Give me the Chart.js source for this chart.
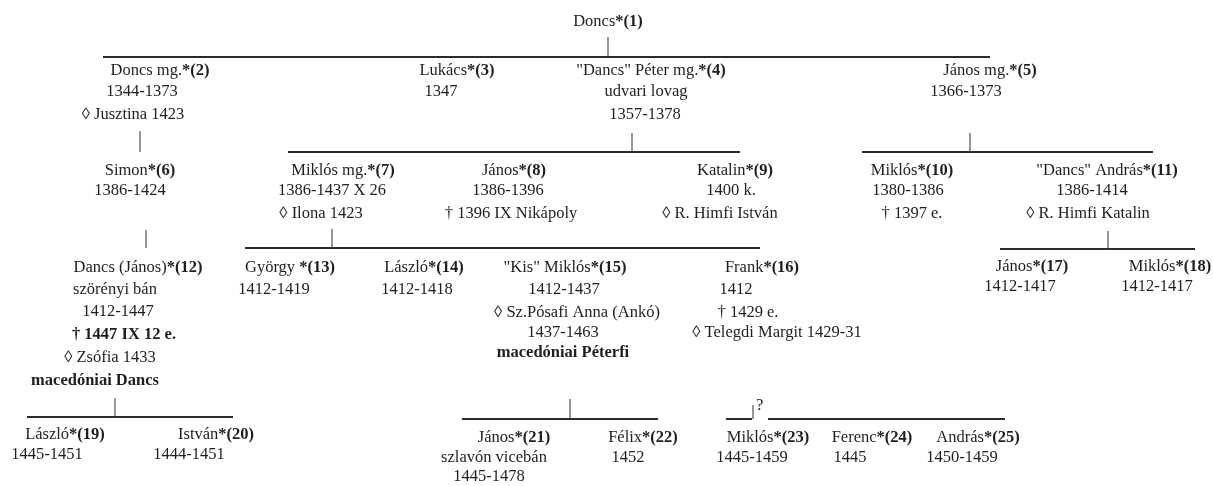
<!DOCTYPE html>
<html>
<head>
<meta charset="utf-8">
<script src="https://cdn.jsdelivr.net/npm/chart.js@4/dist/chart.umd.min.js"></script>
<style>
  body { margin: 0; background: #fff; }
</style>
</head>
<body>
<canvas id="fa" width="1213" height="486"></canvas>
<script>
// családfa adatai
const nevek = ['Doncs', 'Doncs mg.', 'Lukács', '"Dancs" Péter mg.', 'János mg.', 'Simon', 'Miklós mg.', 'János',
  'Katalin', 'Miklós', '"Dancs" András', 'Dancs (János)', 'György ', 'László', '"Kis" Miklós', 'Frank',
  'János', 'Miklós', 'László', 'István', 'János', 'Félix', 'Miklós', 'Ferenc', 'András'];
const sorszamok = [1, 2, 3, 4, 5, 6, 7, 8, 9, 10, 11, 12, 13, 14, 15, 16, 17, 18, 19, 20, 21, 22, 23, 24, 25];
const szulok = [null, 1, 1, 1, 1, 2, 4, 4, 4, 5, 5, 6, 7, 7, 7, 7, 11, 11, 12, 12, 15, 15, 16, 16, 16];
const adatok = [
  [],
  ['1344-1373', '◊ Jusztina 1423'],
  ['1347'],
  ['udvari lovag', '1357-1378'],
  ['1366-1373'],
  ['1386-1424'],
  ['1386-1437 X 26', '◊ Ilona 1423'],
  ['1386-1396', '† 1396 IX Nikápoly'],
  ['1400 k.', '◊ R. Himfi István'],
  ['1380-1386', '† 1397 e.'],
  ['1386-1414', '◊ R. Himfi Katalin'],
  ['szörényi bán', '1412-1447', '† 1447 IX 12 e.', '◊ Zsófia 1433', 'macedóniai Dancs'],
  ['1412-1419'],
  ['1412-1418'],
  ['1412-1437', '◊ Sz.Pósafi Anna (Ankó)', '1437-1463', 'macedóniai Péterfi'],
  ['1412', '† 1429 e.', '◊ Telegdi Margit 1429-31'],
  ['1412-1417'],
  ['1412-1417'],
  ['1445-1451'],
  ['1444-1451'],
  ['szlavón vicebán', '1445-1478'],
  ['1452'],
  ['1445-1459'],
  ['1445'],
  ['1450-1459']
];
const felkover = ['† 1447 IX 12 e.', 'macedóniai Dancs', 'macedóniai Péterfi'];
const bizonytalan = [16];

// elrendezés: minden sor közepe [x, y]
const hely = [
  [[608, 22]],
  [[160, 71], [142, 92], [133, 115]],
  [[457, 71], [441, 92]],
  [[651, 71], [646, 92], [645, 115]],
  [[990, 71], [966, 92]],
  [[140, 171], [130, 191]],
  [[343, 171], [332, 191], [321, 214]],
  [[514, 171], [508, 191], [511, 214]],
  [[735, 171], [731, 191], [720, 214]],
  [[912, 171], [908, 191], [912, 214]],
  [[1107, 171], [1092, 191], [1088, 214]],
  [[138, 268], [115, 290], [118, 312], [124, 335], [110, 358], [95, 381]],
  [[290, 268], [274, 290]],
  [[424, 268], [417, 290]],
  [[565, 268], [564, 290], [577, 313], [563, 333], [563, 353]],
  [[762, 268], [736, 290], [748, 313], [777, 333]],
  [[1032, 267], [1020, 287]],
  [[1170, 267], [1157, 287]],
  [[65, 435], [47, 455]],
  [[216, 435], [189, 455]],
  [[514, 438], [494, 458], [489, 477]],
  [[643, 438], [628, 458]],
  [[768, 438], [752, 458]],
  [[872, 438], [850, 458]],
  [[978, 438], [962, 458]]
];
// ágak: szülő -> [szár x, szár teteje, vonal y, bal, jobb]
const agak = {
  1: [608, 37, 57, 103, 990],
  2: [140, 131, 152, null, null],
  4: [632, 133, 152, 288, 740],
  5: [970, 133, 152, 862, 1153],
  6: [146, 230, 248, null, null],
  7: [332, 229, 248, 245, 760],
  11: [1108, 231, 249, 1000, 1195],
  12: [115, 398, 417, 27, 233],
  15: [570, 399, 419, 462, 658],
  16: [753, 405, 419, 726, 1005]
};

const szakasz = (a, b, vastag) => ({
  data: [a, b],
  showLine: true,
  pointRadius: 0,
  borderColor: vastag ? '#2b2b2b' : '#444',
  borderWidth: vastag ? 2 : 1.1
});

const vonalak = [];
Object.keys(agak).forEach(k => {
  const [sx, st, vy, bal, jobb] = agak[k];
  const p = Number(k);
  if (!szulok.includes(p)) return;
  vonalak.push(szakasz({ x: sx, y: st }, { x: sx, y: vy }, false));
  if (bal === null) return;
  if (bizonytalan.includes(p)) {
    vonalak.push(szakasz({ x: bal, y: vy }, { x: sx - 1, y: vy }, true));
    vonalak.push(szakasz({ x: sx + 15, y: vy }, { x: jobb, y: vy }, true));
  } else {
    vonalak.push(szakasz({ x: bal, y: vy }, { x: jobb, y: vy }, true));
  }
});

const betu = '16.5px "Liberation Serif", "Times New Roman", serif';

const feliratok = {
  id: 'feliratok',
  afterDatasetsDraw(chart) {
    const { ctx, scales: { x, y } } = chart;
    ctx.save();
    ctx.fillStyle = '#1e1e1e';
    ctx.textBaseline = 'middle';
    nevek.forEach((nev, i) => {
      const [nx, ny] = hely[i][0];
      const px = x.getPixelForValue(nx), py = y.getPixelForValue(ny);
      const jel = '*(' + sorszamok[i] + ')';
      ctx.textAlign = 'left';
      ctx.font = betu;
      const w1 = ctx.measureText(nev).width;
      ctx.font = 'bold ' + betu;
      const w2 = ctx.measureText(jel).width;
      const kx = px - (w1 + w2) / 2;
      ctx.font = betu;
      ctx.fillText(nev, kx, py);
      ctx.font = 'bold ' + betu;
      ctx.fillText(jel, kx + w1, py);
      ctx.textAlign = 'center';
      adatok[i].forEach((sor, j) => {
        const [lx, ly] = hely[i][j + 1];
        ctx.font = (felkover.includes(sor) ? 'bold ' : '') + betu;
        ctx.fillText(sor, x.getPixelForValue(lx), y.getPixelForValue(ly));
      });
    });
    // kérdőjel a bizonytalan ágnál
    ctx.textAlign = 'left';
    ctx.font = betu;
    bizonytalan.forEach(p => {
      const [sx, st] = agak[p];
      ctx.fillText('?', x.getPixelForValue(sx + 3), y.getPixelForValue(st + 1));
    });
    ctx.restore();
  }
};

new Chart(document.getElementById('fa'), {
  type: 'scatter',
  data: { datasets: vonalak },
  options: {
    responsive: false,
    animation: false,
    layout: { padding: 0 },
    plugins: { legend: { display: false }, tooltip: { enabled: false } },
    scales: {
      x: { type: 'linear', min: 0, max: 1213, display: false },
      y: { type: 'linear', min: 0, max: 486, reverse: true, display: false }
    }
  },
  plugins: [feliratok]
});
</script>
</body>
</html>
